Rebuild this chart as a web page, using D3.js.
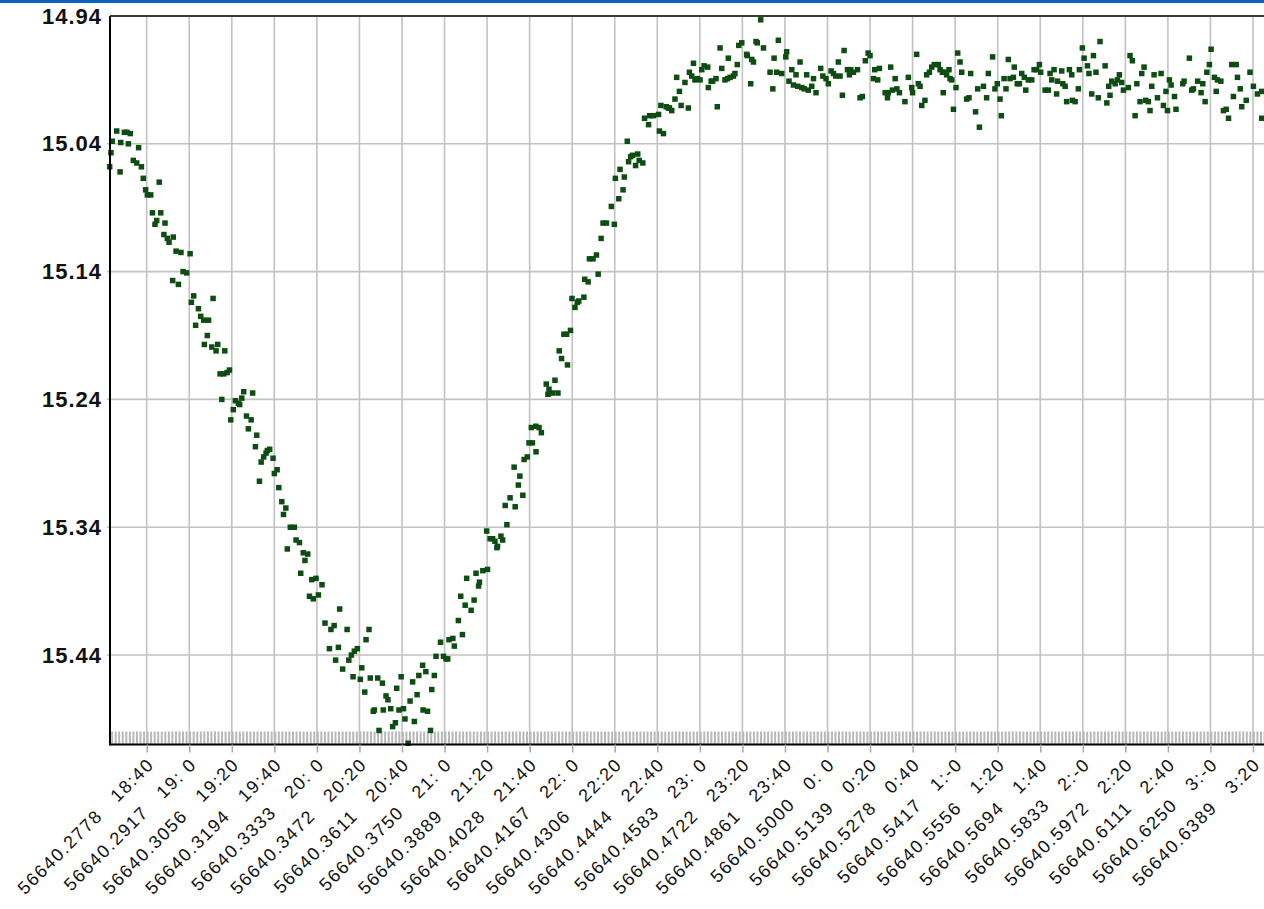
<!DOCTYPE html>
<html>
<head>
<meta charset="utf-8">
<script src="https://cdn.jsdelivr.net/npm/d3@7"></script>
<style>
	body { margin: 0; background: #fff; overflow: hidden; }
	text { font-family: "Liberation Sans", Arial, sans-serif; fill: #111; }
</style>
</head>
<body>
<div id="chart"></div>
<script>
// observation times, minutes after MJD 56640.25
var obsMinutes = [
	22.6, 23.2, 23.8, 25.9, 27.5, 27.8, 29.5, 30.7, 31.4, 32.3, 33.7, 35.3, 36.2, 37.5, 38.4, 39.5, 40.3, 41.9, 42.7, 43.9,
	44.7, 45.9, 46.6, 48.1, 48.6, 49.7, 50.5, 52.5, 52.2, 53.8, 54.9, 56.1, 57.1, 58.8, 60.4, 61.0, 62.1, 63.0, 64.3, 65.4,
	66.8, 69.1, 67.1, 68.5, 70.6, 71.2, 72.6, 73.4, 74.5, 76.2, 76.7, 77.8, 78.9, 75.3, 79.5, 80.7, 81.7, 83.1, 83.7, 84.7,
	85.6, 89.8, 86.9, 89.1, 87.8, 91.7, 91.1, 93.8, 95.0, 96.1, 96.7, 97.8, 99.4, 93.0, 100.0, 101.3, 102.1, 103.5, 105.4, 104.3,
	107.5, 109.4,
	106.1, 110.2, 111.8, 113.6, 115.7, 114.4, 112.4, 117.6, 119.6, 122.4, 120.7, 116.5, 118.3, 123.8, 126.6, 128.1, 130.7, 134.2,
	125.9, 130.1, 128.8, 132.1, 135.0, 136.2, 137.6, 139.0, 144.5, 143.1, 137.0, 140.4, 141.1, 142.5, 145.1, 148.6, 150.8, 146.5,
	147.0, 151.2, 152.5, 153.4, 154.7, 149.2, 155.6, 156.9, 157.5, 159.6, 158.6, 160.7, 161.4, 162.9, 163.8, 165.0, 165.8, 167.1,
	167.9, 169.7, 171.2, 169.9, 172.0, 174.0, 175.2, 173.4, 176.0, 178.1, 179.5, 180.7, 181.5, 182.1, 183.9, 184.6, 186.5, 188.4,
	187.6, 189.7, 190.4, 192.5, 193.9, 194.8, 196.0, 196.4, 198.0, 200.2, 199.8, 201.4,
	202.6, 203.7, 204.9, 204.6, 206.5, 207.3, 209.3, 208.5, 210.8, 213.2, 216.8, 212.7, 215.4, 214.7, 217.4, 218.9, 219.7, 221.3,
	223.0, 220.8, 222.9, 224.4, 225.5, 227.8, 229.1, 228.6, 230.7, 233.3, 231.9, 233.9, 235.0, 237.8, 236.1, 237.4, 239.2, 239.9,
	241.3, 242.4, 243.1, 245.5, 245.9, 247.5, 248.1, 249.8, 251.4, 252.2, 253.6, 254.5, 256.1, 258.4, 259.8, 261.9, 260.3, 262.5,
	263.9, 264.5, 265.9, 266.5, 267.5, 268.4, 269.8, 270.8, 271.5, 273.2, 274.0, 275.9, 276.4, 278.2, 280.6, 281.0, 282.9, 281.7,
	284.2, 285.7,
	285.2, 286.8, 288.3, 289.1, 290.4, 291.2, 293.0, 294.6, 295.1, 296.2, 297.0, 297.7, 298.8, 300.1, 300.9, 302.0, 303.7, 304.0,
	305.3, 306.0, 307.6, 308.2, 309.5, 310.3, 311.8, 313.4, 313.0, 314.2, 315.8, 316.5, 317.6, 318.3, 319.7, 322.0, 322.3, 323.9,
	325.2, 324.4, 326.4, 327.0, 328.6, 329.9, 333.0, 334.3, 334.9, 336.1, 336.9, 338.5, 340.4, 340.8, 341.9, 343.2, 344.0, 345.2,
	346.0, 347.1, 347.9, 349.1, 350.2, 351.0, 352.6, 353.4, 354.6, 356.8, 357.8, 359.3, 360.4, 361.7, 362.8, 363.9, 365.1, 365.9,
	367.0, 367.8, 369.4, 370.3, 370.9, 372.2, 374.1, 375.3, 376.4, 377.8, 379.1, 380.0, 381.6, 382.2, 383.6, 384.4, 387.1, 388.6,
	388.2, 389.7, 390.5, 391.8, 392.6, 393.8,
	396.4, 398.0, 399.6, 400.0, 401.9, 402.7, 404.3, 403.5, 405.8, 406.6, 407.9, 409.0, 410.2, 412.1, 412.9, 414.4, 414.0, 415.2,
	416.0, 417.1, 417.6, 418.4, 419.2, 420.4, 421.2, 422.3, 423.1, 425.4, 426.5, 427.3, 429.6, 430.6, 431.4, 433.3, 434.8, 435.6,
	437.6, 438.7, 439.8, 441.1, 441.7, 443.0, 443.9, 445.0, 445.8, 447.4, 447.8, 449.2, 450.2, 451.3, 453.2, 452.5, 454.4, 456.0,
	457.1, 458.3, 459.6, 460.2, 462.3, 463.8, 464.6, 465.4, 466.5, 467.7, 468.1, 470.1, 470.6, 471.7, 472.4, 473.7, 474.8, 475.1,
	476.4, 477.9, 478.4, 479.8, 480.6, 482.2, 482.9, 485.0, 484.2, 486.2, 487.3, 488.1, 490.5, 491.3, 492.2, 492.8, 493.6, 495.2,
	496.3, 497.2, 498.3, 499.1, 501.4, 502.2, 503.3, 504.6, 505.4, 506.9, 507.7, 508.8, 509.6, 510.8, 511.6, 512.4, 513.5, 515.1,
	516.8, 517.9, 519.1, 519.8, 520.7, 521.5, 523.1, 523.8, 527.0, 527.6, 530.1, 531.2, 532.0, 534.0, 535.6, 536.4, 537.5, 538.3,
	539.5, 540.3, 541.9, 542.7, 543.3, 544.9, 546.1, 547.4, 548.5, 550.0, 552.1, 550.8, 552.7, 554.0, 554.7, 556.8, 558.6, 560.2,
	562.1, 564.1, 564.1
];

var magnitudes = [
	15.058, 15.047, 15.038, 15.030, 15.062, 15.039, 15.031, 15.031, 15.040, 15.032, 15.053, 15.055, 15.043, 15.058, 15.067, 15.076, 15.080, 15.080, 15.094, 15.103,
	15.100, 15.070, 15.094, 15.111, 15.102, 15.114, 15.117, 15.113, 15.147, 15.124, 15.150, 15.125, 15.140, 15.141, 15.126, 15.164, 15.159, 15.182, 15.169, 15.175,
	15.178, 15.178, 15.197, 15.190, 15.199, 15.161, 15.202, 15.197, 15.220, 15.220, 15.202, 15.219, 15.217, 15.240, 15.256, 15.248, 15.241, 15.243, 15.244, 15.239,
	15.234, 15.235, 15.253, 15.256, 15.263, 15.268, 15.277, 15.289, 15.285, 15.282, 15.280, 15.279, 15.286, 15.304, 15.298, 15.295, 15.309, 15.320, 15.325, 15.330,
	15.340, 15.340,
	15.357, 15.350, 15.352, 15.360, 15.361, 15.366, 15.376, 15.381, 15.380, 15.385, 15.393, 15.394, 15.396, 15.415, 15.420, 15.417, 15.404, 15.420,
	15.435, 15.434, 15.444, 15.451, 15.444, 15.440, 15.437, 15.435, 15.420, 15.428, 15.457, 15.459, 15.450, 15.469, 15.458, 15.458, 15.462, 15.484,
	15.483, 15.483, 15.472, 15.475, 15.482, 15.499, 15.496, 15.493, 15.466, 15.457, 15.483, 15.482, 15.490, 15.509, 15.476, 15.461, 15.492, 15.471,
	15.456, 15.448, 15.453, 15.483, 15.484, 15.467, 15.456, 15.499, 15.441, 15.430, 15.441, 15.443, 15.443, 15.428, 15.427, 15.433, 15.413, 15.424,
	15.394, 15.401, 15.380, 15.405, 15.397, 15.376, 15.386, 15.383, 15.374, 15.373, 15.343, 15.349,
	15.349, 15.351, 15.355, 15.356, 15.347, 15.350, 15.338, 15.323, 15.317, 15.324, 15.315, 15.293, 15.300, 15.307, 15.287, 15.285, 15.274, 15.274,
	15.281, 15.262, 15.261, 15.262, 15.266, 15.228, 15.232, 15.236, 15.235, 15.235, 15.225, 15.202, 15.208, 15.213, 15.189, 15.189, 15.186, 15.161,
	15.168, 15.164, 15.163, 15.160, 15.146, 15.148, 15.130, 15.130, 15.127, 15.142, 15.114, 15.102, 15.102, 15.089, 15.103, 15.083, 15.067, 15.060,
	15.076, 15.066, 15.038, 15.054, 15.050, 15.049, 15.057, 15.048, 15.053, 15.055, 15.020, 15.025, 15.018, 15.018, 15.017, 15.030, 15.032, 15.010,
	15.011, 15.012,
	15.012, 15.014, 15.005, 14.988, 14.999, 15.010, 14.992, 15.012, 14.984, 14.987, 14.977, 14.990, 14.989, 14.990, 14.982, 14.979, 14.980, 14.996,
	14.991, 14.991, 14.989, 15.011, 14.965, 14.981, 14.990, 14.973, 14.989, 14.988, 14.987, 14.985, 14.978, 14.963, 14.961, 14.970, 14.971, 14.993,
	14.976, 14.974, 14.960, 14.961, 14.943, 14.965, 14.984, 14.997, 14.973, 14.984, 14.959, 14.985, 14.972, 14.968, 14.991, 14.982, 14.994, 14.986,
	14.995, 14.976, 14.996, 14.997, 14.986, 14.998, 14.995, 14.989, 15.000, 14.981, 14.987, 14.989, 14.993, 14.983, 14.985, 14.987, 14.976, 14.987,
	15.002, 14.967, 14.982, 14.986, 14.982, 14.984, 14.982, 15.004, 15.003, 14.975, 14.969, 14.971, 14.989, 14.982, 14.990, 14.981, 15.000, 15.000,
	15.004, 14.980, 14.998, 14.989, 14.997, 15.000,
	15.007, 14.988, 14.996, 15.000, 14.970, 14.993, 15.010, 14.995, 15.006, 14.986, 14.984, 14.980, 14.978, 14.978, 14.982, 15.000, 14.984, 14.984,
	14.986, 14.982, 14.989, 14.990, 15.013, 14.996, 14.969, 14.976, 14.984, 15.005, 15.004, 14.985, 15.015, 14.997, 15.027, 14.995, 15.004, 14.985,
	14.972, 14.997, 14.993, 15.005, 15.018, 14.989, 14.997, 14.974, 14.989, 14.988, 14.980, 14.993, 14.993, 14.985, 14.998, 14.988, 14.990, 14.990,
	14.982, 14.982, 14.978, 14.984, 14.998, 14.998, 14.985, 14.990, 14.982, 15.001, 14.991, 14.983, 14.993, 14.995, 15.007, 14.982, 14.986, 15.006,
	15.007, 14.997, 14.982, 14.965, 14.973, 14.979, 14.985, 14.971, 15.001, 14.984, 15.004, 14.960, 14.979, 15.008, 14.995, 15.002, 14.991, 14.993,
	14.990, 14.986, 14.992, 14.998, 14.996, 14.971, 14.975, 15.018, 14.993, 15.007, 14.985, 14.980, 15.006, 15.007, 15.014, 14.995, 14.986, 15.004,
	14.985, 15.010, 14.999, 15.014, 14.990, 14.994, 15.003, 15.013, 14.993, 14.991, 14.973, 14.998, 14.997, 14.991, 15.000, 14.993, 15.007, 14.984,
	14.978, 14.966, 14.988, 14.999, 14.990, 14.991, 15.014, 15.013, 15.020, 14.978, 14.978, 15.003, 14.988, 14.997, 15.011, 15.006, 14.984, 14.995,
	15.001, 15.020, 14.999
];

var magTicks = [14.94, 15.04, 15.14, 15.24, 15.34, 15.44];

var tickMjd = ['56640.2778', '56640.2917', '56640.3056', '56640.3194', '56640.3333', '56640.3472', '56640.3611',
	'56640.3750', '56640.3889', '56640.4028', '56640.4167', '56640.4306', '56640.4444', '56640.4583', '56640.4722',
	'56640.4861', '56640.5000', '56640.5139', '56640.5278', '56640.5417', '56640.5556', '56640.5694', '56640.5833',
	'56640.5972', '56640.6111', '56640.6250', '56640.6389'];
var tickClock = ['18:40', '19: 0', '19:20', '19:40', '20: 0', '20:20', '20:40', '21: 0', '21:20', '21:40', '22: 0',
	'22:20', '22:40', '23: 0', '23:20', '23:40', '0: 0', '0:20', '0:40', '1:-0', '1:20', '1:40', '2:-0', '2:20',
	'2:40', '3:-0', '3:20'];

var mjdBase = 56640.25;

var chartW = 1264, chartH = 909;
var plotLeft = 110, plotTop = 16, plotBottom = 744.5;

var points = obsMinutes.map(function(t, i) { return {t: t, mag: magnitudes[i]}; });
var tickMinutes = tickMjd.map(function(s) { return Math.round((+s - mjdBase) * 1440); });

var xScale = d3.scaleLinear().domain([22.75, 571]).range([plotLeft, 1276.4]);
var yScale = d3.scaleLinear().domain([14.94, 15.51]).range([plotTop, plotBottom]);
var plotRight = xScale.range()[1];

var svg = d3.select('#chart').append('svg')
	.attr('width', chartW)
	.attr('height', chartH);

// blue strip at the very top
svg.append('rect')
	.attr('x', 0).attr('y', 0)
	.attr('width', chartW).attr('height', 3)
	.attr('fill', '#0b63c4');

// grid
svg.append('g').selectAll('line.vgrid')
	.data(tickMinutes)
	.enter().append('line')
	.attr('class', 'vgrid')
	.attr('x1', function(d) { return xScale(d); })
	.attr('x2', function(d) { return xScale(d); })
	.attr('y1', plotTop).attr('y2', plotBottom)
	.attr('stroke', '#c2c2c2').attr('stroke-width', 1.6);

svg.append('g').selectAll('line.hgrid')
	.data(magTicks.slice(1))
	.enter().append('line')
	.attr('class', 'hgrid')
	.attr('x1', plotLeft - 3).attr('x2', plotRight)
	.attr('y1', function(d) { return yScale(d); })
	.attr('y2', function(d) { return yScale(d); })
	.attr('stroke', '#c2c2c2').attr('stroke-width', 1.6);

// minor tick strip along the bottom
var minorTicks = d3.range(xScale.domain()[0] + 1, xScale.domain()[1], 20 / 12);
svg.append('g').selectAll('line')
	.data(minorTicks)
	.enter().append('line')
	.attr('x1', function(d) { return xScale(d); })
	.attr('x2', function(d) { return xScale(d); })
	.attr('y1', plotBottom - 13).attr('y2', plotBottom)
	.attr('stroke', '#b8b8b8').attr('stroke-width', 2);

// points
svg.append('g').selectAll('rect')
	.data(points)
	.enter().append('rect')
	.attr('x', function(d) { return xScale(d.t) - 2.75; })
	.attr('y', function(d) { return yScale(d.mag) - 2.75; })
	.attr('width', 5.5).attr('height', 5.5)
	.attr('fill', '#0e4d12');

// frame
svg.append('line')
	.attr('x1', plotLeft).attr('x2', plotRight)
	.attr('y1', plotTop).attr('y2', plotTop)
	.attr('stroke', '#3a3a3a').attr('stroke-width', 2);

// y axis
var yAxis = svg.append('g')
	.attr('transform', 'translate(' + plotLeft + ',0)')
	.call(d3.axisLeft(yScale).tickValues(magTicks).tickFormat(d3.format('.2f')).tickSize(0).tickPadding(8));
yAxis.select('.domain').attr('stroke', '#000').attr('stroke-width', 2)
	.attr('d', 'M0,' + plotTop + 'V' + (plotBottom + 1));
yAxis.selectAll('text')
	.attr('font-size', 22)
	.attr('font-weight', 'bold')
	.attr('letter-spacing', 1)
	.attr('fill', '#111');

// x axis
var xAxis = svg.append('g')
	.attr('transform', 'translate(0,' + plotBottom + ')')
	.call(d3.axisBottom(xScale).tickValues(tickMinutes)
		.tickFormat(function(d, i) { return tickMjd[i] + '   ' + tickClock[i]; })
		.tickSize(8));
xAxis.select('.domain').attr('stroke', '#000').attr('stroke-width', 2)
	.attr('d', 'M' + plotLeft + ',0H' + plotRight);
xAxis.selectAll('.tick line').attr('stroke', '#aaa').attr('stroke-width', 1.5);
xAxis.selectAll('text')
	.attr('x', 0).attr('y', 0).attr('dy', 0)
	.attr('text-anchor', 'end')
	.attr('transform', 'translate(8,21) rotate(-45)')
	.style('white-space', 'pre')
	.attr('font-size', 18)
	.attr('letter-spacing', 1.6)
	.attr('fill', '#111');
</script>
</body>
</html>
